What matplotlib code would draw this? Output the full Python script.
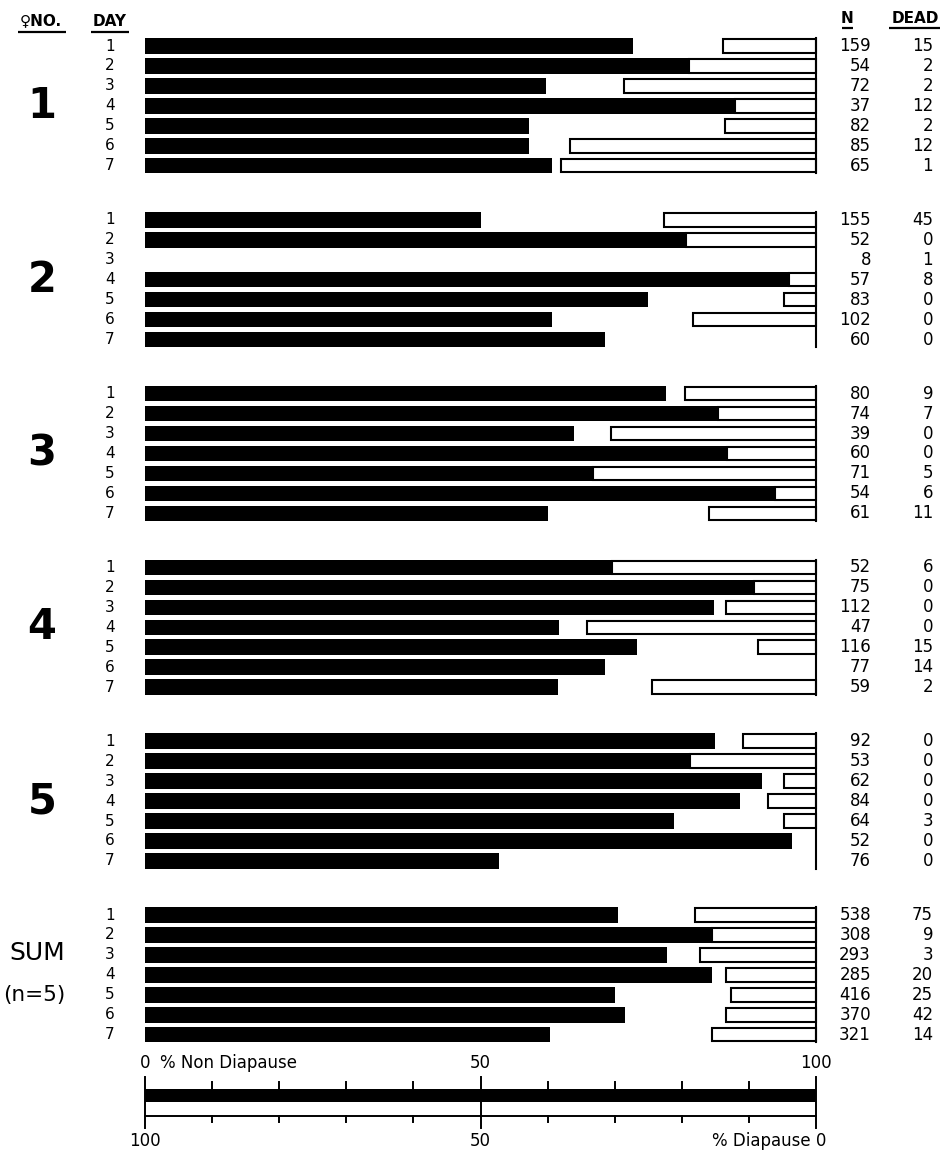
import matplotlib
matplotlib.use("Agg")
import matplotlib.pyplot as plt
import numpy as np

# ---------------- data (percent of bar length) ----------
days = [1, 2, 3, 4, 5, 6, 7]
group_labels = ["1", "2", "3", "4", "5", "SUM"]

# % non diapause (black bars, from the left)
nondiap_g1 = [72.7, 81.0, 59.8, 87.9, 57.3, 57.3, 60.6]
nondiap_g2 = [50.1, 80.6, np.nan, 96.0, 74.9, 60.7, 68.5]
nondiap_g3 = [77.6, 85.4, 64.0, 86.7, 66.8, 93.9, 60.0]
nondiap_g4 = [69.6, 90.8, 84.8, 61.7, 73.3, 68.5, 61.5]
nondiap_g5 = [84.9, 81.2, 91.9, 88.6, 78.9, 96.4, 52.7]
nondiap_sum = [70.5, 84.5, 77.8, 84.5, 70.0, 71.6, 60.4]

# % diapause (open bars, from the right)
diap_g1 = [13.8, 19.0, 28.6, 12.1, 13.6, 36.7, 38.0]
diap_g2 = [22.6, 19.4, np.nan, 4.0, 4.7, 18.3, 0.0]
diap_g3 = [19.5, 14.6, 30.6, 13.3, 33.2, 6.1, 15.9]
diap_g4 = [30.4, 9.2, 13.4, 34.2, 8.7, 0.0, 24.5]
diap_g5 = [10.9, 18.8, 4.7, 7.2, 4.7, 0.0, 0.0]
diap_sum = [18.1, 15.5, 17.3, 13.4, 12.6, 13.4, 15.5]

# sample sizes and dead counts
n_g1 = [159, 54, 72, 37, 82, 85, 65]
n_g2 = [155, 52, 8, 57, 83, 102, 60]
n_g3 = [80, 74, 39, 60, 71, 54, 61]
n_g4 = [52, 75, 112, 47, 116, 77, 59]
n_g5 = [92, 53, 62, 84, 64, 52, 76]
n_sum = [538, 308, 293, 285, 416, 370, 321]

dead_g1 = [15, 2, 2, 12, 2, 12, 1]
dead_g2 = [45, 0, 1, 8, 0, 0, 0]
dead_g3 = [9, 7, 0, 0, 5, 6, 11]
dead_g4 = [6, 0, 0, 0, 15, 14, 2]
dead_g5 = [0, 0, 0, 0, 3, 0, 0]
dead_sum = [75, 9, 3, 20, 25, 42, 14]

scale_ticks = [0, 10, 20, 30, 40, 50, 60, 70, 80, 90, 100]
major_ticks = [0, 50, 100]

nondiap = [nondiap_g1, nondiap_g2, nondiap_g3, nondiap_g4, nondiap_g5, nondiap_sum]
diap = [diap_g1, diap_g2, diap_g3, diap_g4, diap_g5, diap_sum]
ns = [n_g1, n_g2, n_g3, n_g4, n_g5, n_sum]
deads = [dead_g1, dead_g2, dead_g3, dead_g4, dead_g5, dead_sum]

# ---------------- layout -------------------------------------------------------
W, H = 941, 1151
X0, X1 = 145, 816          # pixel positions of 0 % and 100 %


def px(p):
    return (p - X0) / (X1 - X0) * 100.0


plt.rcParams['font.family'] = ['DejaVu Sans']
fig = plt.figure(figsize=(W / 100, H / 100), dpi=100)
ax = fig.add_axes([0, 0, 1, 1])
ax.set_xlim(px(0), px(W))
ax.set_ylim(H, 0)
ax.axis('off')

GROUP_START, GROUP_STEP, ROW_STEP = 46, 173.8, 19.95
BLACK_H, OPEN_H = 15.5, 13.5

# headers
hdr = dict(fontsize=11, fontweight='bold', ha='center', va='center')
ax.text(px(41), 21, "♀NO.", **hdr)
ax.text(px(110), 21, "DAY", **hdr)
ax.text(px(847), 18, "N", **hdr)
ax.text(px(915), 18, "DEAD", **hdr)
for a, b, yy in [(18, 66, 32), (91, 129, 32), (842, 853, 28), (889, 940, 28)]:
    ax.plot([px(a), px(b)], [yy, yy], color='black', lw=1.6, solid_capstyle='butt')

for g in range(len(group_labels)):
    ys = np.array([GROUP_START + g * GROUP_STEP + i * ROW_STEP for i in range(len(days))])
    nd = np.array(nondiap[g], dtype=float)
    dp = np.array(diap[g], dtype=float)
    ax.barh(ys, np.nan_to_num(nd), left=0, height=BLACK_H, color='black', linewidth=0)
    mask = np.nan_to_num(dp) > 0
    ax.barh(ys[mask], dp[mask], left=100 - dp[mask], height=OPEN_H,
            facecolor='white', edgecolor='black', linewidth=1.5)
    # right boundary line of group
    ax.plot([100, 100], [ys[0] - BLACK_H / 2, ys[-1] + BLACK_H / 2], color='black', lw=1.5)
    for i, d in enumerate(days):
        ax.text(px(110), ys[i], str(d), fontsize=11, ha='center', va='center')
        ax.text(px(871), ys[i], str(ns[g][i]), fontsize=12, ha='right', va='center')
        ax.text(px(933), ys[i], str(deads[g][i]), fontsize=12, ha='right', va='center')
    ymid = ys[3]
    if group_labels[g] == "SUM":
        ax.text(px(37), ymid - 22, "SUM", fontsize=18, ha='center', va='center')
        ax.text(px(34), ymid + 20, "(n=5)", fontsize=15.5, ha='center', va='center')
    else:
        ax.text(px(42), ymid, group_labels[g], fontsize=30, fontweight='bold',
                ha='center', va='center')

# ---------------- scale at the bottom ----------------------------------------
lab = dict(fontsize=12, va='center')
ax.text(0, 1063, "0", ha='center', **lab)
ax.text(px(160), 1063, "% Non Diapause", ha='left', **lab)
ax.text(50, 1063, "50", ha='center', **lab)
ax.text(100, 1063, "100", ha='center', **lab)

ax.barh([1095], [100], left=0, height=13, color='black', linewidth=0)
ax.plot([0, 100], [1116, 1116], color='black', lw=1.4)
for t in scale_ticks:
    if t in major_ticks:
        ax.plot([t, t], [1077, 1128], color='black', lw=1.4)
    else:
        ax.plot([t, t], [1082, 1090], color='black', lw=1.4)
        ax.plot([t, t], [1116, 1122], color='black', lw=1.4)

ax.text(0, 1141, "100", ha='center', **lab)
ax.text(50, 1141, "50", ha='center', **lab)
ax.text(px(826), 1141, "% Diapause 0", ha='right', **lab)

fig.savefig("out.png", dpi=100)
